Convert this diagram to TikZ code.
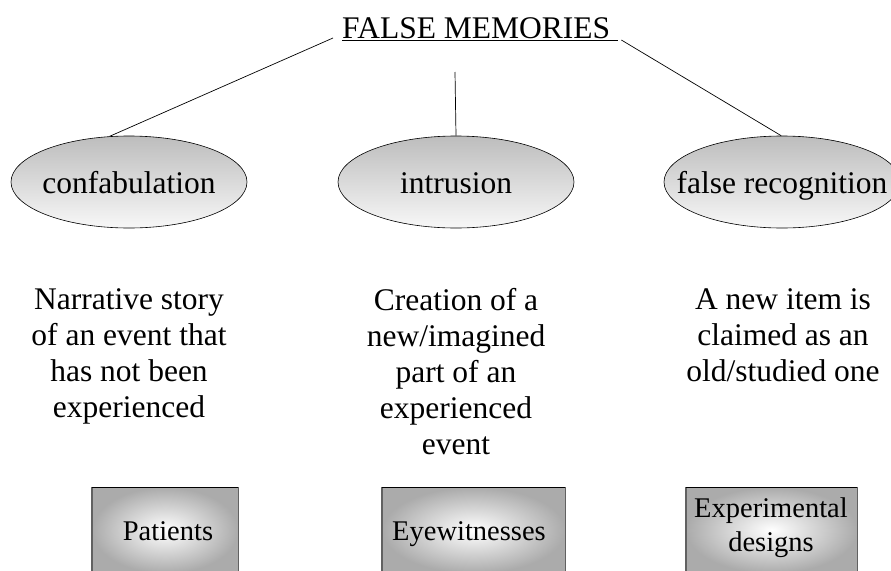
\documentclass[tikz,border=0pt]{standalone}
\usepackage{fontspec}
\setmainfont{Liberation Serif}
\usetikzlibrary{shapes.geometric}
\begin{document}
\begin{tikzpicture}[x=1pt,y=-1pt,
  every node/.style={inner sep=0pt, font=\fontsize{31.5}{36}\selectfont},
  kind/.style={ellipse, draw=black, line width=0.6pt,
    minimum width=236pt, minimum height=92pt,
    text height=22pt, text depth=0pt,
    top color=black!26, bottom color=black!3},
  desc/.style={align=center, anchor=north},
  source/.style={anchor=north west, minimum height=86pt,
    shading=radial, inner color=white, outer color=black!33},
  tag/.style={font=\fontsize{28.5}{34}\selectfont},
  rim/.style={draw=black!62, line width=1.6pt},
  lid/.style={draw=black, line width=0.8pt},
  link/.style={draw=black, line width=0.7pt}]
\clip (0,0) rectangle (891,570);

% heading
\node[anchor=base west] (title) at (342,38) {\underline{FALSE MEMORIES\ }};
\coordinate (mtop) at (455,72);

% the three kinds (labels boxed to zero width so every ellipse keeps one size)
\node[kind] (conf) at (129,182) {\makebox[0pt]{confabulation}};
\node[kind] (intr) at (456,182) {\makebox[0pt]{intrusion}};
\node[kind] (recog) at (782,182) {\makebox[0pt]{false recognition}};

\draw[link] ([xshift=-9pt]title.base west) -- (conf.113);
\draw[link] (mtop) -- (intr.north);
\draw[link] ([shift={(3,2)}]title.base east) -- (recog.91);

% definitions
\node[desc] (d1) at (129,288) {Narrative story\\of an event that\\has not been\\experienced};
\node[desc] (d2) at (456,288) {Creation of a\\new/imagined\\part of an\\experienced\\event};
\node[desc] (d3) at (783,288) {A new item is\\claimed as an\\old/studied one};

% where each kind is studied
\node[source, minimum width=146pt] (b1) at (92,487) {};
\node[source, minimum width=183pt] (b2) at (382,487) {};
\node[source, minimum width=171pt] (b3) at (686,487) {};
\foreach \b in {b1,b2,b3}{
  \draw[rim] (\b.north west) -- (\b.south west);
  \draw[rim] (\b.north east) -- (\b.south east);
  \draw[lid] (\b.north west) -- (\b.north east);
}
\node[tag, anchor=base] (l1) at (168,540) {Patients};
\node[tag, anchor=base] (l2) at (469,540) {Eyewitnesses};
\node[tag, align=center] (l3) at (771,528) {Experimental\\designs};
\end{tikzpicture}
\end{document}
